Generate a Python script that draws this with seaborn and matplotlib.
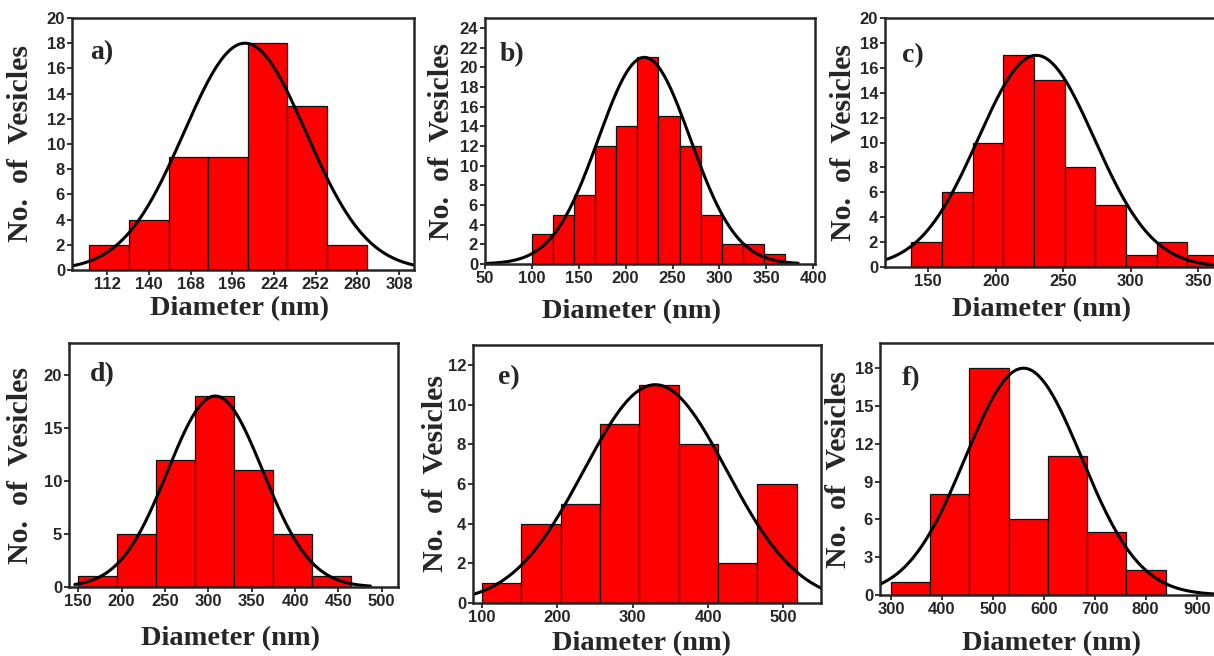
import matplotlib
matplotlib.use("Agg")
import matplotlib.pyplot as plt
import numpy as np
import pandas as pd
import seaborn as sns

# histogram bins (nm) and counts
a_edges = [100, 126.6, 153.2, 179.8, 206.4, 233, 259.6, 286.2]
a_counts = [2, 4, 9, 9, 18, 13, 2]
b_edges = [100, 122.5, 145, 167.5, 190, 212.5, 235, 257.5, 280, 302.5, 325, 347.5, 370]
b_counts = [3, 5, 7, 12, 14, 21, 15, 12, 5, 2, 2, 1]
c_edges = [137.5, 160.2, 182.9, 205.6, 228.3, 251, 273.7, 296.4, 319.1, 341.8, 364.5]
c_counts = [2, 6, 10, 17, 15, 8, 5, 1, 2, 1]
d_edges = [150, 195, 240, 285, 330, 375, 420, 465]
d_counts = [1, 5, 12, 18, 11, 5, 1]
e_edges = [100, 152.2, 204.4, 256.6, 308.8, 361, 413.2, 465.4, 517.6]
e_counts = [1, 4, 5, 9, 11, 8, 2, 6]
f_edges = [300, 377, 454, 531, 608, 685, 762, 839]
f_counts = [1, 8, 18, 6, 11, 5, 2]

# gaussian fits: centre, sigma, amplitude
a_fit = [204.5, 41, 18]
b_fit = [220, 49, 21]
c_fit = [230, 43, 17]
d_fit = [308, 55, 18]
e_fit = [330, 95, 11]
f_fit = [560, 114, 18]

a_xticks = [112, 140, 168, 196, 224, 252, 280, 308]
b_xticks = [50, 100, 150, 200, 250, 300, 350, 400]
c_xticks = [150, 200, 250, 300, 350]
d_xticks = [150, 200, 250, 300, 350, 400, 450, 500]
e_xticks = [100, 200, 300, 400, 500]
f_xticks = [300, 400, 500, 600, 700, 800, 900]

panel_letters = ["a)", "b)", "c)", "d)", "e)", "f)"]

sns.set_style("ticks")
plt.rcParams["font.family"] = ["Liberation Sans", "DejaVu Sans"]
plt.rcParams["font.weight"] = "bold"

W, H = 1214, 656
SERIF = ["Liberation Serif", "DejaVu Serif"]

# layout in pixels: left, right, top, bottom, xlim, ylim, ystep, curve range,
# ylabel right edge offset, xlabel centre / offset, letter position
panels = [
    dict(edges=a_edges, counts=a_counts, fit=a_fit, xticks=a_xticks, box=(72, 414, 18, 270),
         xlim=(88.3, 318), ylim=(0, 20), ystep=2, crange=(88.3, 318), ylab=-38, xlab=(240, 26),
         letter=(90, 53), right=True),
    dict(edges=b_edges, counts=b_counts, fit=b_fit, xticks=b_xticks, box=(485, 815, 18, 264),
         xlim=(50, 402), ylim=(0, 25), ystep=2, crange=(52, 384), ylab=-30, xlab=(632, 35),
         letter=(500, 55), right=True),
    dict(edges=c_edges, counts=c_counts, fit=c_fit, xticks=c_xticks, box=(885, 1214, 18, 267),
         xlim=(118, 361.6), ylim=(0, 20), ystep=2, crange=(118, 365), ylab=-28, xlab=(1042, 30),
         letter=(902, 56), right=False),
    dict(edges=d_edges, counts=d_counts, fit=d_fit, xticks=d_xticks, box=(69, 398, 343, 587),
         xlim=(139.3, 518.8), ylim=(0, 23), ystep=5, crange=(146, 487), ylab=-35, xlab=(231, 39),
         letter=(90, 375), right=True),
    dict(edges=e_edges, counts=e_counts, fit=e_fit, xticks=e_xticks, box=(473, 821, 345, 603),
         xlim=(88, 550), ylim=(0, 13), ystep=2, crange=(88, 550), ylab=-24, xlab=(642, 28),
         letter=(498, 378), right=True),
    dict(edges=f_edges, counts=f_counts, fit=f_fit, xticks=f_xticks, box=(880, 1214, 343, 595),
         xlim=(278.4, 934), ylim=(0, 20), ystep=3, crange=(278.4, 940), ylab=-28, xlab=(1051, 36),
         letter=(902, 379), right=False),
]

fig = plt.figure(figsize=(W / 100, H / 100), dpi=100)

for p, letter in zip(panels, panel_letters):
    left, right, top, bottom = p["box"]
    ax = fig.add_axes([left / W, 1 - bottom / H, (right - left) / W, (bottom - top) / H])

    edges = [float(e) for e in p["edges"]]
    centers = [0.5 * (lo + hi) for lo, hi in zip(edges[:-1], edges[1:])]
    hist_df = pd.DataFrame({"diameter": centers, "count": p["counts"]})
    sns.histplot(data=hist_df, x="diameter", weights="count", bins=edges, ax=ax,
                 color="#ff0000", edgecolor="#111111", linewidth=0.9, alpha=1.0)

    mu, sigma, amp = p["fit"]
    xs = np.linspace(p["crange"][0], p["crange"][1], 400)
    ys = amp * np.exp(-((xs - mu) ** 2) / (2 * sigma ** 2))
    sns.lineplot(x=xs, y=ys, ax=ax, color="black", linewidth=2.2)

    ax.set_xlim(*p["xlim"])
    ax.set_ylim(*p["ylim"])
    ax.set_xticks(p["xticks"])
    ax.set_yticks(np.arange(0, p["ylim"][1] + 0.01, p["ystep"]))
    ax.tick_params(direction="out", length=3.5, width=1.3, labelsize=12, pad=1.5)
    for lab in ax.get_xticklabels() + ax.get_yticklabels():
        lab.set_fontweight("bold")

    for side in ["left", "bottom", "top", "right"]:
        ax.spines[side].set_linewidth(1.8)
    if not p["right"]:
        ax.spines["right"].set_visible(False)

    pw, ph = right - left, bottom - top
    ax.set_ylabel("No.  of  Vesicles", family=SERIF, fontsize=21.5, fontweight="bold")
    ax.yaxis.set_label_coords(p["ylab"] / pw, 0.5)
    ax.set_xlabel("Diameter (nm)", family=SERIF, fontsize=20.5, fontweight="bold")
    ax.xaxis.set_label_coords((p["xlab"][0] - left) / pw, -p["xlab"][1] / ph)

    lx, ly = p["letter"]
    fig.text(lx / W, 1 - ly / H, letter, family=SERIF, fontsize=20, fontweight="bold",
             ha="left", va="center")

fig.savefig("out.png", dpi=100)
